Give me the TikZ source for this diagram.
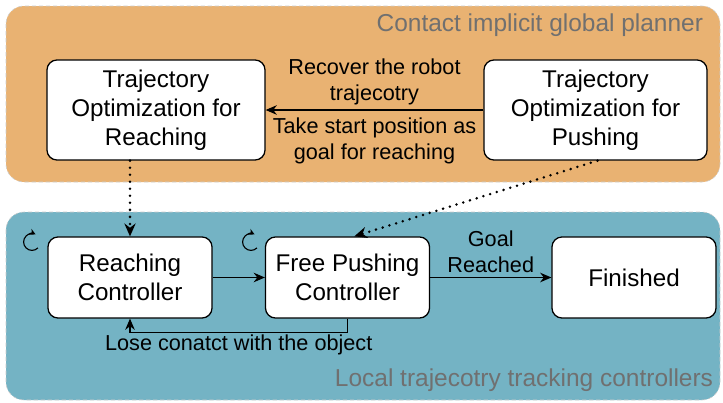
\documentclass[tikz,border=0pt]{standalone}
\usepackage{fontspec}
\setmainfont{Liberation Sans}
\usetikzlibrary{positioning,arrows.meta,calc}
\definecolor{naranja}{RGB}{233,178,114}
\definecolor{celeste}{RGB}{116,179,196}
\definecolor{gris}{RGB}{112,112,112}

\begin{document}
\begin{tikzpicture}[x=0.025cm,y=-0.025cm,font=\fontsize{17.2}{20.6}\selectfont,
        n/.style={draw,line width=0.9pt,rounded corners=0.25cm,fill=white,align=center,minimum height=2.5cm},
        m/.style={n,minimum height=2.025cm,minimum width=4.1cm},
        f/.style={-{Stealth[length=2.8mm,width=2.4mm]},line width=0.8pt},
        d/.style={-{Stealth[length=3.2mm,width=2.8mm]},line width=2pt,dash pattern=on 0pt off 5pt,line cap=round},
        r/.style={line width=0.8pt,-{Stealth[length=1.5mm,width=1.6mm]}},
        l/.style={font=\fontsize{15.4}{18.5}\selectfont,align=center},
        g/.style={draw=gray!40,dash pattern=on 3pt off 2pt,rounded corners=0.45cm},
        t/.style={anchor=east,text=gris,font=\fontsize{17.4}{20}\selectfont}]
        \useasboundingbox (0,0) rectangle (723,402);
        \path[g,fill=naranja] (6,6) rectangle (720,182);
        \path[g,fill=celeste] (6,212) rectangle (720,400);
        \node[t] (tg) at (708,25) {Contact implicit global planner};
        \node[t] (tl) at (718,380) {Local trajecotry tracking controllers};
        \node[n,minimum width=5.45cm] (tor) at (156,110) {Trajectory\\Optimization for\\Reaching};
        \node[n,minimum width=5.575cm] (top) at (595.5,110) {Trajectory\\Optimization for\\Pushing};
        \node[m] (rc) at (130,277.5) {Reaching\\Controller};
        \node[m] (fpc) at (347.5,277.5) {Free Pushing\\Controller};
        \node[m] (fin) at (634,277.5) {Finished};
        \draw[f] (top) -- node[l,above] {Recover the robot\\trajecotry}
          node[l,below,yshift=-2pt] {Take start position as\\goal for reaching} (tor);
        \draw[f] (rc) -- (fpc);
        \draw[f] (fpc) -- node[l,above] {Goal\\Reached} (fin);
        \draw[f] (fpc.south) -- ++(0,14) -| node[l,pos=0.25,below,inner sep=1pt] {Lose conatct with the object} (rc.south);
        \draw[d] (tor.south -| rc.north) -- (rc.north);
        \draw[d] ([xshift=0.05cm]top.south) -- ([xshift=0.17cm]fpc.north);
        \coordinate (c1) at (32,242);
        \coordinate (c2) at (251,242);
        \draw[r] ([shift={(-45:0.21cm)}]c1) arc[start angle=-45,end angle=-295,radius=0.21cm];
        \draw[r] ([shift={(-45:0.21cm)}]c2) arc[start angle=-45,end angle=-295,radius=0.21cm];
      \end{tikzpicture}
\end{document}
